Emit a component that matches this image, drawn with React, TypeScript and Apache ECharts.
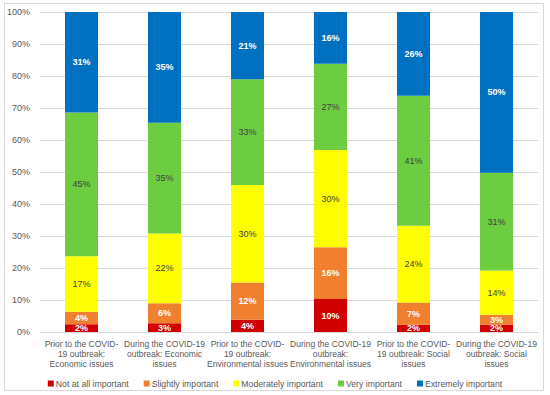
import React, { useEffect, useRef } from "react";
import * as echarts from "echarts";

const categories = [
  "Prior to the COVID-\n19 outbreak:\nEconomic issues",
  "During the COVID-19\noutbreak: Economic\nissues",
  "Prior to the COVID-\n19 outbreak:\nEnvironmental issues",
  "During the COVID-19\noutbreak:\nEnvironmental issues",
  "Prior to the COVID-\n19 outbreak: Social\nissues",
  "During the COVID-19\noutbreak: Social\nissues",
];
const seriesNames = [
  "Not at all important",
  "Slightly important",
  "Moderately important",
  "Very important",
  "Extremely important",
];
const notAtAll = [2.4, 2.7, 3.8, 10.3, 2.3, 2.3];
const slightly = [3.9, 6.3, 11.7, 16.2, 6.9, 3.1];
const moderately = [17.4, 21.8, 30.4, 30.4, 24.0, 13.8];
const very = [44.9, 34.6, 33.1, 26.9, 40.6, 30.6];
const extremely = [31.4, 34.6, 21.0, 16.2, 26.2, 50.2];
const yTicks = [0, 10, 20, 30, 40, 50, 60, 70, 80, 90, 100];

const colors = ["#D00000", "#F07F30", "#FFFF00", "#6DCD40", "#0070C0"];
const labelColors = ["#ffffff", "#ffffff", "#404040", "#404040", "#ffffff"];

export default function App() {
  const ref = useRef<HTMLDivElement>(null);
  useEffect(() => {
    if (!ref.current) return;
    const chart = echarts.init(ref.current, null, { renderer: "svg" });
    const data = [notAtAll, slightly, moderately, very, extremely];
    chart.setOption({
      animation: false,
      textStyle: { fontFamily: "Liberation Sans, Arial, sans-serif" },
      graphic: [
        {
          type: "rect",
          shape: { x: 4.5, y: 3.5, width: 539, height: 387 },
          style: { fill: "none", stroke: "#d9d9d9", lineWidth: 1 },
          silent: true,
        },
      ],
      grid: { left: 40, right: 12, top: 12, bottom: 63 },
      legend: {
        top: 374,
        left: "center",
        icon: "rect",
        itemWidth: 6,
        itemHeight: 6,
        itemGap: 15,
        textStyle: { fontSize: 8.7, color: "#595959", padding: [0, 0, 0, -3] },
        data: seriesNames,
      },
      xAxis: {
        type: "category",
        data: categories,
        axisTick: { show: false },
        axisLine: { lineStyle: { color: "#d9d9d9" } },
        axisLabel: {
          interval: 0,
          fontSize: 8.5,
          color: "#595959",
          lineHeight: 10,
          margin: 7,
        },
      },
      yAxis: {
        type: "value",
        min: 0,
        max: 100,
        interval: 10,
        axisLabel: {
          fontSize: 9,
          color: "#595959",
          margin: 10,
          formatter: (v: number) => (yTicks.includes(v) ? v + "%" : ""),
        },
        splitLine: { lineStyle: { color: "#d9d9d9" } },
        axisLine: { show: false },
        axisTick: { show: false },
      },
      series: seriesNames.map((name, i) => ({
        name,
        type: "bar",
        stack: "total",
        barWidth: 33,
        itemStyle: { color: colors[i] },
        label: {
          show: true,
          position: "inside",
          fontSize: 9,
          fontWeight: i === 2 || i === 3 ? "normal" : "bold",
          color: labelColors[i],
          formatter: (p: any) => Math.round(p.value) + "%",
        },
        data: data[i],
      })),
    });
    return () => chart.dispose();
  }, []);
  return (
    <div
      ref={ref}
      style={{ position: "fixed", left: 0, top: 0, width: 550, height: 395, background: "#fff" }}
    />
  );
}
